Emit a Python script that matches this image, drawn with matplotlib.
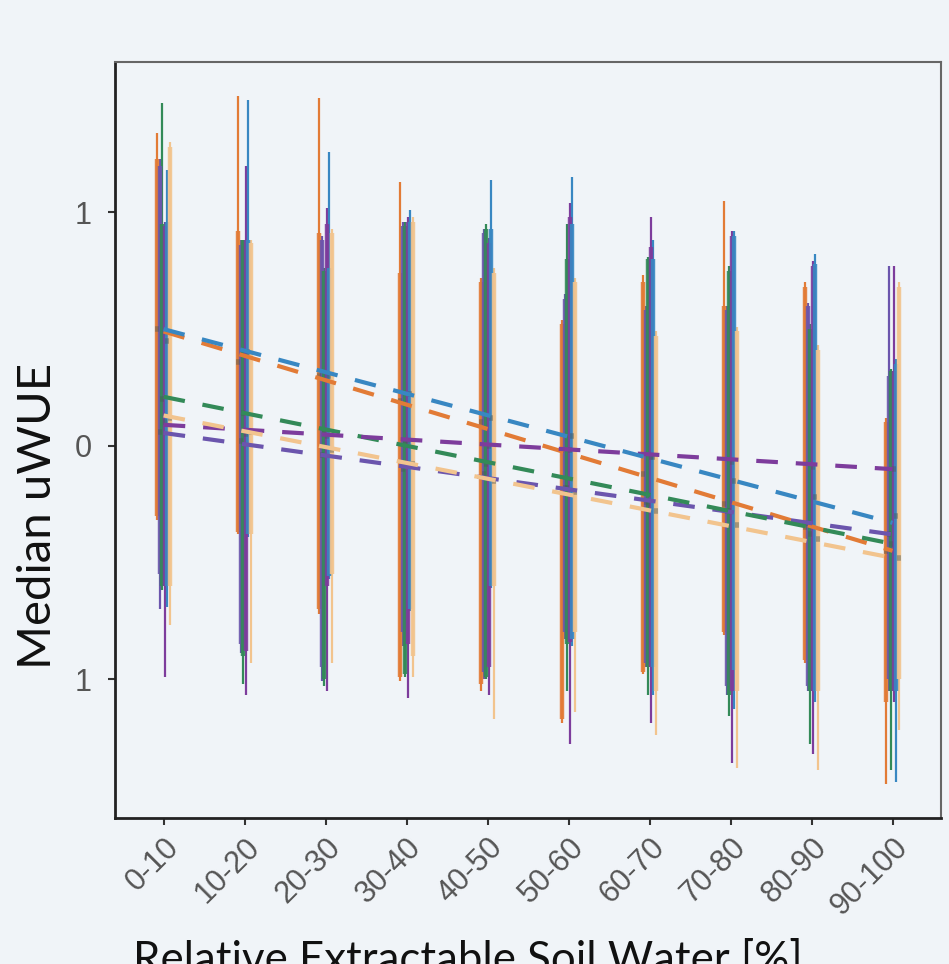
import numpy as np
import matplotlib
matplotlib.use("Agg")
import matplotlib.pyplot as plt

categories = ['0-10', '10-20', '20-30', '30-40', '40-50',
              '50-60', '60-70', '70-80', '80-90', '90-100']

series_names = ['orange', 'indigo', 'green', 'purple', 'blue', 'tan']
colors = ['#e27b36', '#6b55ad', '#338a58', '#7d3c9c', '#3887c2', '#f2c48e']

# whisker top / box top / box bottom / whisker bottom / median, per series
hi = {
    'orange': [1.34, 1.50, 1.49, 1.13, 0.72, 0.54, 0.73, 1.05, 0.70, 0.12],
    'indigo': [1.23, 0.88, 0.90, 0.96, 0.93, 0.65, 0.60, 0.60, 0.61, 0.77],
    'green':  [1.47, 0.88, 0.76, 0.96, 0.95, 0.95, 0.81, 0.77, 0.52, 0.33],
    'purple': [0.96, 1.20, 1.02, 0.98, 0.89, 1.04, 0.98, 0.92, 0.79, 0.77],
    'blue':   [1.18, 1.48, 1.26, 1.01, 1.14, 1.15, 0.88, 0.92, 0.82, 0.37],
    'tan':    [1.30, 0.88, 0.93, 0.98, 0.76, 0.72, 0.49, 0.51, 0.43, 0.70],
}
q3 = {
    'orange': [1.23, 0.92, 0.91, 0.74, 0.70, 0.52, 0.70, 0.60, 0.68, 0.10],
    'indigo': [1.20, 0.86, 0.88, 0.94, 0.91, 0.63, 0.58, 0.58, 0.60, 0.30],
    'green':  [0.95, 0.88, 0.75, 0.94, 0.93, 0.80, 0.80, 0.75, 0.50, 0.32],
    'purple': [0.94, 0.88, 0.95, 0.96, 0.87, 0.98, 0.85, 0.90, 0.77, 0.32],
    'blue':   [0.96, 0.88, 0.76, 0.96, 0.93, 0.95, 0.80, 0.90, 0.78, 0.35],
    'tan':    [1.28, 0.87, 0.91, 0.96, 0.74, 0.70, 0.47, 0.49, 0.41, 0.68],
}
q1 = {
    'orange': [-0.30, -0.37, -0.70, -0.99, -1.02, -1.17, -0.97, -0.80, -0.92, -1.10],
    'indigo': [-0.55, -0.85, -0.95, -0.80, -0.97, -0.80, -0.93, -1.03, -1.03, -1.00],
    'green':  [-0.60, -0.90, -1.00, -0.98, -0.99, -0.85, -0.95, -1.07, -1.05, -1.05],
    'purple': [-0.60, -0.88, -0.60, -0.85, -0.95, -0.84, -0.95, -1.05, -1.05, -1.05],
    'blue':   [-0.60, -0.38, -0.56, -0.70, -0.60, -0.83, -0.95, -0.96, -1.05, -1.05],
    'tan':    [-0.60, -0.38, -0.55, -0.90, -0.60, -0.80, -1.05, -1.05, -1.05, -1.00],
}
lo = {
    'orange': [-0.32, -0.38, -0.72, -1.01, -1.05, -1.19, -0.98, -0.81, -0.93, -1.45],
    'indigo': [-0.70, -0.89, -1.01, -0.86, -1.00, -0.83, -0.95, -1.07, -1.05, -1.05],
    'green':  [-0.62, -1.02, -1.03, -0.99, -1.00, -1.05, -1.07, -1.16, -1.28, -1.39],
    'purple': [-0.99, -1.07, -1.05, -1.08, -1.07, -1.28, -1.19, -1.36, -1.32, -1.10],
    'blue':   [-0.69, -0.39, -0.57, -0.71, -0.61, -0.86, -1.07, -1.13, -1.10, -1.44],
    'tan':    [-0.77, -0.93, -0.93, -0.99, -1.17, -1.14, -1.24, -1.38, -1.39, -1.22],
}
med = {
    'orange': [0.50, 0.36, 0.30, 0.19, 0.10, -0.02, -0.12, -0.25, -0.35, -0.45],
    'indigo': [0.06, 0.02, -0.04, -0.10, -0.12, -0.18, -0.24, -0.28, -0.33, -0.38],
    'green':  [0.20, 0.14, 0.06, 0.02, -0.08, -0.18, -0.25, -0.28, -0.38, -0.42],
    'purple': [0.10, 0.05, 0.04, 0.02, 0.00, -0.02, -0.05, -0.07, -0.09, -0.10],
    'blue':   [0.45, 0.40, 0.30, 0.22, 0.12, 0.04, -0.05, -0.15, -0.22, -0.30],
    'tan':    [0.12, 0.06, -0.02, -0.08, -0.15, -0.20, -0.28, -0.34, -0.40, -0.48],
}
# fitted trend, value at first and last class
trend_start = {'orange': 0.49, 'indigo': 0.055, 'green': 0.21,
               'purple': 0.09, 'blue': 0.50, 'tan': 0.13}
trend_end = {'orange': -0.45, 'indigo': -0.38, 'green': -0.42,
             'purple': -0.10, 'blue': -0.33, 'tan': -0.48}

offsets = [-0.08, -0.045, -0.015, 0.015, 0.045, 0.08]
bg = '#f0f4f8'

fig = plt.figure(figsize=(9.49, 9.64), dpi=100, facecolor=bg)
ax = fig.add_axes([0.1212, 0.1515, 0.8705, 0.7842], facecolor=bg)

x = np.arange(len(categories))
for name, col, off in zip(series_names, colors, offsets):
    xs = x + off
    ax.vlines(xs, lo[name], hi[name], color=col, lw=1.6, zorder=2)
    ax.vlines(xs, q1[name], q3[name], color=col, lw=3.2, zorder=3, alpha=0.9)
    ax.hlines(med[name], xs - 0.025, xs + 0.025, color='#4a5a58', lw=4,
              alpha=0.45, zorder=4)

for name, col in zip(series_names, colors):
    ax.plot([x[0], x[-1]], [trend_start[name], trend_end[name]], color=col,
            lw=3.0, dashes=(5.2, 4.3), zorder=5)

ax.set_xlim(-0.6, 9.6)
ax.set_ylim(-1.595, 1.645)
ax.set_xticks(x)
ax.set_xticklabels(categories, rotation=45, ha='right', rotation_mode='anchor',
                   fontsize=22, color='#555555', family='Liberation Sans')
ax.set_yticks([1, 0, -1])
ax.set_yticklabels(['1', '0', '1'], fontsize=22, color='#555555',
                   family='Liberation Sans')
ax.tick_params(axis='both', length=5, width=1.5, color='#333333')
ax.tick_params(axis='x', pad=5)
ax.tick_params(axis='y', pad=12)

for side in ['left', 'bottom']:
    ax.spines[side].set_color('#222222')
    ax.spines[side].set_linewidth(2)
for side in ['top', 'right']:
    ax.spines[side].set_color('#666666')
    ax.spines[side].set_linewidth(1.5)

ax.set_ylabel('Median uWUE', fontsize=34, family='Lato', color='#111111')
ax.yaxis.set_label_coords(-0.068, 0.40)
fig.text(0.14, 1 - 940 / 964, 'Relative Extractable Soil Water [%]',
         fontsize=31.5, family='Lato', color='#111111', ha='left', va='top')

fig.savefig('out.png', dpi=100, facecolor=bg)
